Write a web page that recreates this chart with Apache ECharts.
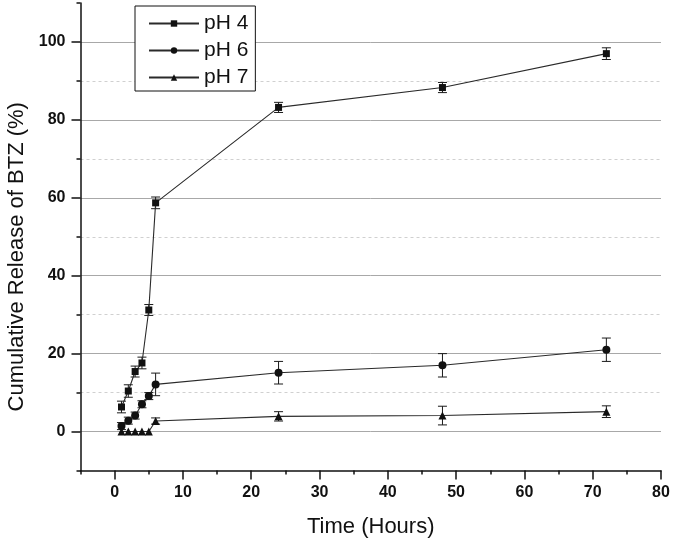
<!DOCTYPE html>
<html>
<head>
<meta charset="utf-8">
<script src="https://cdn.jsdelivr.net/npm/echarts@6.0.0/dist/echarts.min.js"></script>
<style>
html,body{margin:0;padding:0;background:#fff;}
#chart{width:675px;height:542px;}
</style>
</head>
<body>
<div id="chart"></div>
<script>
// ---- data ----
const times = [1, 2, 3, 4, 5, 6, 24, 48, 72];
const ph4 = [6.3, 10.4, 15.4, 17.6, 31.2, 58.7, 83.2, 88.3, 97.0];
const ph4Err = [1.5, 1.6, 1.4, 1.5, 1.4, 1.5, 1.3, 1.3, 1.5];
const ph6 = [1.4, 2.8, 4.1, 7.0, 9.1, 12.1, 15.1, 17.0, 21.0];
const ph6Err = [0.9, 0.9, 0.9, 0.9, 0.9, 2.9, 2.9, 3.0, 3.0];
const ph7 = [0, 0, 0, 0, 0, 2.7, 3.9, 4.1, 5.1];
const ph7Err = [0, 0, 0, 0, 0, 0.8, 1.2, 2.4, 1.5];
const seriesNames = ['pH 4', 'pH 6', 'pH 7'];
const xMajor = [0, 10, 20, 30, 40, 50, 60, 70, 80];
const xMinor = [-5, 5, 15, 25, 35, 45, 55, 65, 75];
const yMajor = [0, 20, 40, 60, 80, 100];
const yMinor = [-10, 10, 30, 50, 70, 90, 110];

const FONT = "'Liberation Sans', Arial, sans-serif";
const chart = echarts.init(document.getElementById('chart'), null, {renderer: 'canvas'});

function pairs(vals) { return times.map((t, i) => [t, vals[i]]); }
function errSeries(name, vals, errs) {
  return {
    name: name, type: 'custom', xAxisIndex: 0, yAxisIndex: 0, z: 3, silent: true,
    data: times.map((t, i) => [t, vals[i] - errs[i], vals[i] + errs[i]]).filter((d, i) => errs[i] > 0),
    renderItem: function (params, api) {
      const lo = api.coord([api.value(0), api.value(1)]);
      const hi = api.coord([api.value(0), api.value(2)]);
      const w = 4.5;
      const st = {stroke: '#1a1a1a', lineWidth: 1};
      return {type: 'group', children: [
        {type: 'line', shape: {x1: lo[0], y1: lo[1], x2: hi[0], y2: hi[1]}, style: st},
        {type: 'line', shape: {x1: lo[0] - w, y1: lo[1], x2: lo[0] + w, y2: lo[1]}, style: st},
        {type: 'line', shape: {x1: hi[0] - w, y1: hi[1], x2: hi[0] + w, y2: hi[1]}, style: st}
      ]};
    }
  };
}
function lineSeries(name, vals, symbol, size) {
  return {
    name: name, type: 'line', xAxisIndex: 0, yAxisIndex: 0, z: 4,
    data: pairs(vals), symbol: symbol, symbolSize: size, showSymbol: true,
    lineStyle: {color: '#2a2a2a', width: 1.1},
    itemStyle: {color: '#111', borderWidth: 0},
    emphasis: {disabled: true}, animation: false
  };
}

const labelStyle = {fontFamily: FONT, fontSize: 16, fontWeight: 'bold', color: '#111'};
function als() { return {color: '#111', width: 1.5}; }

function tickAxis(kind, min, max, values, len, split) {
  return {
    type: 'value', min: min, max: max, position: kind === 'x' ? 'bottom' : 'left',
    axisLine: {show: false, onZero: false},
    axisTick: {show: true, inside: false, length: len, customValues: values, lineStyle: als()},
    axisLabel: {show: false},
    splitLine: split
  };
}

const option = {
  animation: false,
  backgroundColor: '#fff',
  grid: {left: 80.5, right: 14, top: 3, bottom: 71.5, containLabel: false, outerBoundsMode: 'none'},
  legend: {
    data: seriesNames, orient: 'vertical', left: 135, top: 6,
    padding: [7, 7, 3, 13], itemGap: 6, itemWidth: 50, itemHeight: 8,
    backgroundColor: '#fff', borderColor: '#111', borderWidth: 1, borderRadius: 0,
    textStyle: {fontFamily: FONT, fontSize: 21, color: '#111'},
    selectedMode: false, z: 10
  },
  xAxis: [
    {
      type: 'value', min: -5, max: 80, position: 'bottom',
      name: 'Time (Hours)', nameLocation: 'middle', nameGap: 45,
      nameTextStyle: {fontFamily: FONT, fontSize: 22, color: '#111'},
      axisLine: {show: true, onZero: false, lineStyle: als()},
      axisTick: {show: false, customValues: xMajor},
      axisLabel: {show: true, margin: 14, customValues: xMajor, ...labelStyle},
      splitLine: {show: false}
    },
    tickAxis('x', -5, 80, xMajor, 9, {show: false}),
    tickAxis('x', -5, 80, xMinor, 4, {show: false})
  ],
  yAxis: [
    {
      type: 'value', min: -10, max: 110, position: 'left',
      name: 'Cumulative Release of BTZ (%)', nameLocation: 'middle', nameGap: 53,
      nameTextStyle: {fontFamily: FONT, fontSize: 22, color: '#111', padding: [0, 40, 0, 0]},
      axisLine: {show: true, onZero: false, lineStyle: als()},
      axisTick: {show: false, customValues: yMajor},
      axisLabel: {show: true, margin: 15, customValues: yMajor, ...labelStyle},
      splitLine: {show: false}
    },
    tickAxis('y', -10, 110, yMajor, 9,
      {show: true, lineStyle: {color: '#a8a8a8', width: 1, type: 'solid'}}),
    tickAxis('y', -10, 110, yMinor, 4,
      {show: true, showMinLine: false, showMaxLine: false, lineStyle: {color: '#d0d0d0', width: 1, type: [3, 3]}})
  ],
  series: [
    errSeries('err4', ph4, ph4Err),
    errSeries('err6', ph6, ph6Err),
    errSeries('err7', ph7, ph7Err),
    lineSeries(seriesNames[0], ph4, 'rect', 7),
    lineSeries(seriesNames[1], ph6, 'circle', 8),
    lineSeries(seriesNames[2], ph7, 'triangle', 8)
  ]
};
chart.setOption(option);
</script>
</body>
</html>
